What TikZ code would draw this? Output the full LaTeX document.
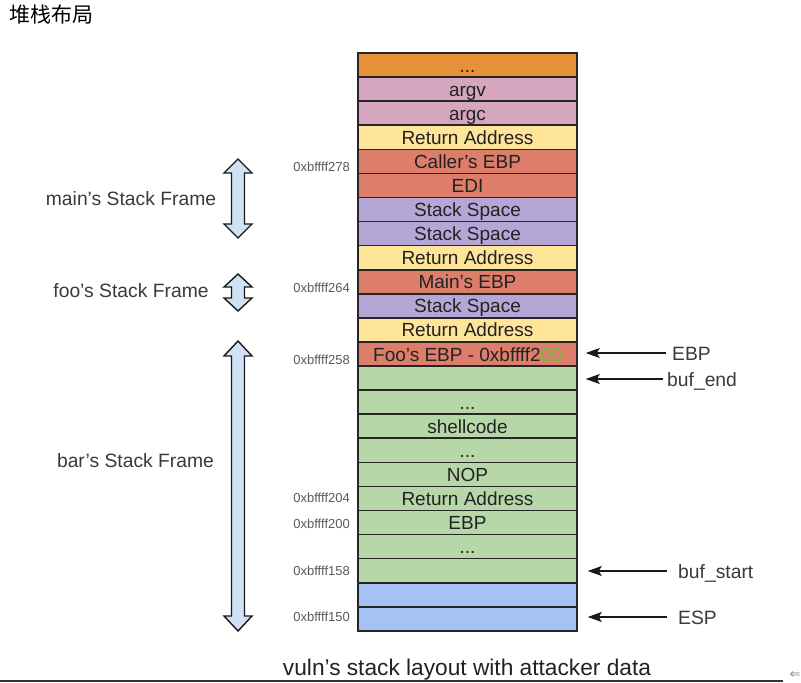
\documentclass[tikz,border=0pt]{standalone}
\usepackage{fontspec}
\setmainfont{Liberation Sans}
\newfontfamily\cjkfont{Noto Sans CJK SC}
\newfontfamily\symfont{DejaVu Sans}
\usetikzlibrary{arrows.meta}
\definecolor{cOrange}{HTML}{E69138}
\definecolor{cPink}{HTML}{D5A6BD}
\definecolor{cYellow}{HTML}{FFE599}
\definecolor{cRed}{HTML}{DD7E6B}
\definecolor{cPurple}{HTML}{B4A7D6}
\definecolor{cGreen}{HTML}{B6D7A8}
\definecolor{cBlue}{HTML}{A4C2F4}
\definecolor{cArrow}{HTML}{CFE2F3}
\definecolor{cBright}{HTML}{6ABF3A}
\definecolor{cText}{HTML}{222222}
\definecolor{cLabel}{HTML}{3A3A3A}
\definecolor{cAddr}{HTML}{5A5A5A}
\newcommand{\stackdarrow}[5]{% name, cx, top, bot, head length
  \draw[framearrow] (#2,#3) coordinate (#1t) -- (#2+14,#3+#5) -- (#2+6.5,#3+#5) -- (#2+6.5,#4-#5)
    -- (#2+14,#4-#5) -- (#2,#4) coordinate (#1b) -- (#2-14,#4-#5) -- (#2-6.5,#4-#5)
    -- (#2-6.5,#3+#5) -- (#2-14,#3+#5) -- cycle;}
\begin{document}
\begin{tikzpicture}[x=1pt,y=-1pt,
  row/.style={draw=black!85, line width=1.6pt, minimum width=219pt, minimum height=24.08pt,
    inner sep=0pt, text height=14pt, text depth=0pt, text=cText,
    font=\fontsize{19}{19}\selectfont},
  addr/.style={anchor=east, inner sep=0pt, text=cAddr, font=\fontsize{13}{13}\selectfont},
  frame/.style={inner sep=0pt, text=cLabel, font=\fontsize{19.3}{19.3}\selectfont},
  ptrlabel/.style={anchor=west, inner sep=0pt, text=cLabel, text height=14pt, text depth=0pt,
    font=\fontsize{19.3}{19.3}\selectfont},
  ptr/.style={-{Stealth[length=14pt,width=10pt,inset=3pt]}, line width=1.2pt, black!90},
  framearrow/.style={draw=black!90, line width=1.4pt, fill=cArrow, line join=miter},
]
\useasboundingbox (0,0) rectangle (801,683);
\fill[white] (0,0) rectangle (801,683);

% title
\node[anchor=west, inner sep=0pt, font=\cjkfont\fontsize{21}{21}\selectfont] (title) at (9,15) {堆栈布局};

% stack rows
\foreach \i/\c/\t in {1/cOrange/{...}, 2/cPink/argv, 3/cPink/argc, 4/cYellow/Return Address,
  5/cRed/Caller’s EBP, 6/cRed/EDI, 7/cPurple/Stack Space, 8/cPurple/Stack Space,
  9/cYellow/Return Address, 10/cRed/Main’s EBP, 11/cPurple/Stack Space, 12/cYellow/Return Address,
  13/cRed/{Foo’s EBP - 0xbffff2\textcolor{cBright}{00}}, 14/cGreen/{}, 15/cGreen/{...}, 16/cGreen/shellcode,
  17/cGreen/{...}, 18/cGreen/NOP, 19/cGreen/Return Address, 20/cGreen/EBP, 21/cGreen/{...},
  22/cGreen/{}, 23/cBlue/{}, 24/cBlue/{}}
  \node[row, fill=\c] (r\i) at (467.5, {53+(\i-0.5)*24.08}) {\t};

% addresses
\node[addr] (a278) at (350,167) {0xbffff278};
\node[addr] (a264) at (350,288) {0xbffff264};
\node[addr] (a258) at (350,360) {0xbffff258};
\node[addr] (a204) at (350,498) {0xbffff204};
\node[addr] (a200) at (350,524) {0xbffff200};
\node[addr] (a158) at (350,571) {0xbffff158};
\node[addr] (a150) at (350,617) {0xbffff150};

% frame labels
\node[frame] (fmain) at (131,199) {main’s Stack Frame};
\node[frame] (ffoo) at (131,291) {foo’s Stack Frame};
\node[frame] (fbar) at (135.5,461) {bar’s Stack Frame};

% frame double arrows
\stackdarrow{dm}{238}{159}{238}{14}
\stackdarrow{df}{238}{274}{311}{13}
\stackdarrow{db}{238}{341}{631}{15}

% pointer labels and arrows
\node[ptrlabel] (lebp) at (672,353) {EBP};
\node[ptrlabel] (lend) at (667,379) {buf\_end};
\node[ptrlabel] (lstart) at (678,571) {buf\_start};
\node[ptrlabel] (lesp) at (678,617) {ESP};
\draw[ptr, shorten <=6pt, shorten >=8pt] (lebp.west) -- (lebp.west -| r13.east);
\draw[ptr, shorten <=4pt, shorten >=8pt] (lend.west) -- (lend.west -| r14.east);
\draw[ptr, shorten <=11pt, shorten >=10pt] (lstart.west) -- (lstart.west -| r22.east);
\draw[ptr, shorten <=11pt, shorten >=10pt] (lesp.west) -- (lesp.west -| r24.east);

% caption
\node[anchor=base, inner sep=0pt, text=cText, font=\fontsize{22.7}{22.7}\selectfont] (cap) at (467,675) {vuln’s stack layout with attacker data};
\coordinate (ulA) at (0,681);
\coordinate (ulB) at (783,681);
\draw[line width=1.6pt, black!80] (ulA) -- (ulB);
\node[inner sep=0pt, text=black!45, font=\symfont\fontsize{13}{13}\selectfont] (corner) at (795,675) {⇐};
\end{tikzpicture}
\end{document}
